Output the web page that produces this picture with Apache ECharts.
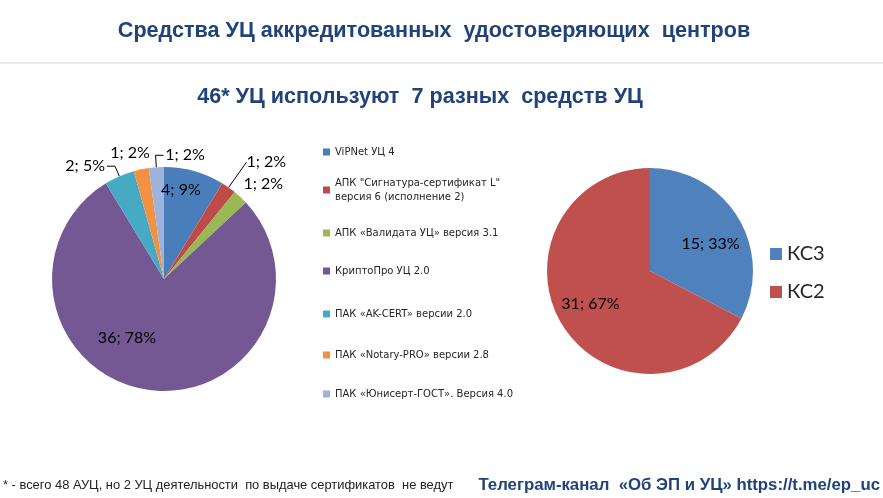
<!DOCTYPE html>
<html>
<head>
<meta charset="utf-8">
<script src="https://cdn.jsdelivr.net/npm/echarts@6/dist/echarts.min.js"></script>
<style>
html,body{margin:0;padding:0;background:#fff;}
#chart{width:883px;height:498px;}
</style>
</head>
<body>
<div id="chart"></div>
<script>
// ---- data ----
const TOOL_NAMES = [
  'ViPNet УЦ 4',
  'АПК "Сигнатура-сертификат L"\nверсия 6 (исполнение 2)',
  'АПК «Валидата УЦ» версия 3.1',
  'КриптоПро УЦ 2.0',
  'ПАК «AK-CERT» версии 2.0',
  'ПАК «Notary-PRO» версии 2.8',
  'ПАК «Юнисерт-ГОСТ». Версия 4.0'
];
const TOOL_COUNTS = [4, 1, 1, 36, 2, 1, 1];
const TOOL_PCT = [9, 2, 2, 78, 5, 2, 2];

const CLASS_NAMES = ['КС3', 'КС2'];
const CLASS_COUNTS = [15, 31];
const CLASS_PCT = [33, 67];

const TITLE_TEXT = 'Средства УЦ аккредитованных  удостоверяющих  центров';
const SUBTITLE_TEXT = '46* УЦ используют  7 разных  средств УЦ';
const FOOTNOTE_TEXT = '* - всего 48 АУЦ, но 2 УЦ деятельности  по выдаче сертификатов  не ведут';
const CHANNEL_TEXT = 'Телеграм-канал  «Об ЭП и УЦ» https://t.me/ep_uc';

// ---- styles ----
const TOOL_COLORS = ['#4A7EBB', '#BE4B48', '#98B954', '#735894', '#46AAC5', '#F29142', '#9DB3DC'];
const CLASS_COLORS = ['#4F81BD', '#C0504D'];
const NAVY = '#21437A';
const ARIAL = "'Liberation Sans', Arial, sans-serif";
const LABEL_FONT = "Lato, 'Open Sans', sans-serif";

// per-slice label settings (position tweaks only)
const TOOL_LABEL_CFG = [
  {label: {position: 'inside'}},
  {label: {position: 'outside', distanceToLabelLine: 0, padding: [0, 0, 8, 0]}, labelLine: {show: true, length: 31, length2: 0}},
  {label: {position: 'outside'}, labelLine: {show: false, length: 0, length2: 0}},
  {label: {position: 'inside'}},
  {label: {position: 'outside', distanceToLabelLine: 2, padding: [0, 0, 8, 0]}, labelLine: {show: true, length: 11, length2: 8}},
  {label: {position: 'outside'}, labelLine: {show: false, length: 0, length2: 0}},
  {label: {position: 'outside', distanceToLabelLine: -41.4}, labelLine: {show: true, length: 12, length2: -8}}
];
const TOOL_LABEL_SHIFT = [[1, -32], [0, 0], [-2, -13], [-29, 0], [0, 0], [13.7, -16.3], [0, 0]];
const CLASS_LABEL_SHIFT = [[14, 1], [-13, 5]];

const chart = echarts.init(document.getElementById('chart'), null, {renderer: 'canvas'});

const toolData = TOOL_NAMES.map((n, i) => Object.assign({
  name: n, value: TOOL_COUNTS[i], itemStyle: {color: TOOL_COLORS[i]}
}, TOOL_LABEL_CFG[i]));

const classData = CLASS_NAMES.map((n, i) => ({
  name: n, value: CLASS_COUNTS[i], itemStyle: {color: CLASS_COLORS[i]}
}));

const legendTops = [145, 169, 226, 264, 307, 348, 387];
const legends = TOOL_NAMES.map((n, i) => ({
  data: [n],
  orient: 'vertical',
  left: 323,
  top: legendTops[i],
  padding: 0,
  itemWidth: 7,
  itemHeight: 7,
  icon: 'rect',
  selectedMode: false,
  textStyle: {
    fontFamily: "'DejaVu Sans', sans-serif",
    fontSize: 10,
    lineHeight: 14,
    color: '#262626',
    padding: n.indexOf('\n') >= 0 ? [14, 0, 0, 0] : 0
  }
}));
legends.push({
  data: CLASS_NAMES,
  orient: 'vertical',
  left: 770,
  top: 243,
  padding: 0,
  itemWidth: 12,
  itemHeight: 12,
  itemGap: 16,
  icon: 'rect',
  selectedMode: false,
  textStyle: {fontFamily: LABEL_FONT, fontSize: 20, lineHeight: 22, color: '#262626'}
});

const option = {
  backgroundColor: '#fff',
  animation: false,
  title: [
    {text: TITLE_TEXT, left: 434, top: 20, padding: 0, textAlign: 'center',
     textStyle: {fontFamily: ARIAL, fontWeight: 'bold', fontSize: 21.6, color: NAVY}},
    {text: SUBTITLE_TEXT, left: 420, top: 86, padding: 0, textAlign: 'center',
     textStyle: {fontFamily: ARIAL, fontWeight: 'bold', fontSize: 21.6, color: NAVY}},
    {text: FOOTNOTE_TEXT, left: 3, top: 478.5, padding: 0,
     textStyle: {fontFamily: ARIAL, fontWeight: 'normal', fontSize: 12.9, color: '#222'}},
    {text: CHANNEL_TEXT, right: 3, top: 476.5, padding: 0,
     textStyle: {fontFamily: ARIAL, fontWeight: 'bold', fontSize: 16.8, color: NAVY}}
  ],
  graphic: [
    {type: 'line', shape: {x1: 0, y1: 63, x2: 883, y2: 63}, style: {stroke: '#D9D9D9', lineWidth: 1}, silent: true}
  ],
  legend: legends,
  series: [
    {
      name: 'tools',
      type: 'pie',
      center: [164, 279],
      radius: 112,
      startAngle: 90,
      clockwise: true,
      avoidLabelOverlap: false,
      itemStyle: {borderWidth: 0},
      label: {
        fontFamily: LABEL_FONT, fontSize: 16, color: '#000',
        formatter: p => p.value + '; ' + TOOL_PCT[p.dataIndex] + '%'
      },
      labelLine: {lineStyle: {color: '#000', width: 1}, minTurnAngle: 0, maxSurfaceAngle: 180},
      labelLayout: p => ({dx: TOOL_LABEL_SHIFT[p.dataIndex][0], dy: TOOL_LABEL_SHIFT[p.dataIndex][1]}),
      emphasis: {disabled: true},
      data: toolData
    },
    {
      name: 'classes',
      type: 'pie',
      center: [650, 271],
      radius: 103,
      startAngle: 90,
      clockwise: true,
      avoidLabelOverlap: false,
      itemStyle: {borderWidth: 0},
      label: {
        position: 'inside',
        fontFamily: LABEL_FONT, fontSize: 16, color: '#000',
        formatter: p => p.value + '; ' + CLASS_PCT[p.dataIndex] + '%'
      },
      labelLine: {show: false},
      labelLayout: p => ({dx: CLASS_LABEL_SHIFT[p.dataIndex][0], dy: CLASS_LABEL_SHIFT[p.dataIndex][1]}),
      emphasis: {disabled: true},
      data: classData
    }
  ]
};
chart.setOption(option);
</script>
</body>
</html>
